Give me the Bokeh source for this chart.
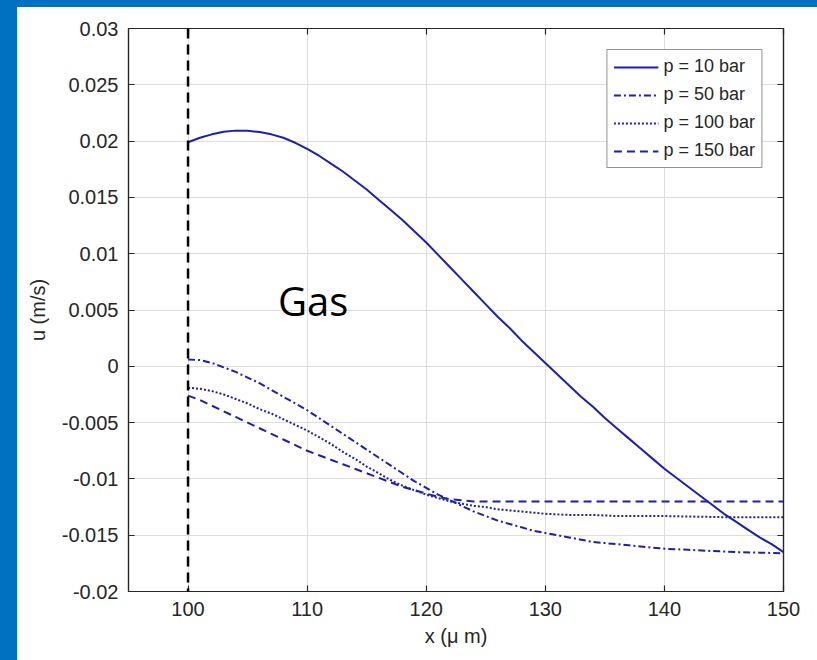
from bokeh.plotting import figure
from bokeh.models import (Range1d, FixedTicker, LinearAxis, Span, Label, Spacer,
                          CustomLabelingPolicy)
from bokeh.layouts import column, row
from bokeh.embed import file_html
from bokeh.resources import INLINE

# ---------------- data ----------------
x_p10 = [100, 101, 102, 103, 104, 105, 106, 107, 108, 109, 110, 111, 112, 113, 114,
         115, 116, 117, 118, 119, 120, 121, 122, 123, 124, 125, 126, 127, 128, 129,
         130, 131, 132, 133, 134, 135, 136, 137, 138, 139, 140, 141, 142, 143, 144,
         145, 146, 147, 148, 149, 150]
u_p10 = [0.0199, 0.0203, 0.0206, 0.02083, 0.02093, 0.02092, 0.0208, 0.0206, 0.0203,
         0.01985, 0.0193, 0.0187, 0.0180, 0.0173, 0.0165, 0.0157, 0.0148, 0.0139,
         0.0130, 0.0120, 0.0110, 0.0099, 0.0088, 0.0077, 0.0066, 0.0055, 0.0044,
         0.0034, 0.0023, 0.0013, 0.0003, -0.0007, -0.0017, -0.0027, -0.0036,
         -0.0046, -0.0055, -0.0064, -0.0073, -0.0082, -0.0091, -0.0099, -0.0107,
         -0.0115, -0.0123, -0.0131, -0.0138, -0.0145, -0.0152, -0.0158, -0.0165]

x_p50 = [100, 101, 102, 103, 104, 105, 106, 107, 108, 109, 110, 111, 112, 113, 114,
         115, 116, 117, 118, 119, 120, 121, 122, 123, 124, 125, 126, 127, 128, 129,
         130, 131, 132, 133, 134, 135, 136, 137, 138, 139, 140, 142, 144, 146, 148, 150]
u_p50 = [0.0006, 0.00055, 0.0003, -0.0001, -0.0005, -0.0010, -0.0015, -0.0021,
         -0.0027, -0.0033, -0.0039, -0.0046, -0.0053, -0.0060, -0.0067, -0.0074,
         -0.0081, -0.0088, -0.0095, -0.0102, -0.0108, -0.0114, -0.0119, -0.0124,
         -0.0129, -0.0133, -0.0137, -0.0140, -0.0143, -0.0146, -0.0148, -0.0150,
         -0.0152, -0.0154, -0.0156, -0.0157, -0.0158, -0.0159, -0.0160, -0.0161,
         -0.0162, -0.0163, -0.0164, -0.0165, -0.01655, -0.0166]

x_p100 = [100, 101, 102, 103, 104, 105, 106, 107, 108, 109, 110, 111, 112, 113, 114,
          115, 116, 117, 118, 119, 120, 121, 122, 123, 124, 125, 126, 127, 128, 129,
          130, 132, 134, 136, 140, 145, 150]
u_p100 = [-0.0019, -0.0020, -0.0022, -0.0025, -0.0029, -0.0033, -0.0038, -0.0042,
          -0.0047, -0.0052, -0.0057, -0.0063, -0.0069, -0.0076, -0.0082, -0.0089,
          -0.0095, -0.0101, -0.0106, -0.0110, -0.0114, -0.0117, -0.0120, -0.0122,
          -0.0124, -0.0125, -0.0127, -0.0128, -0.0129, -0.0130, -0.0131, -0.0132,
          -0.0132, -0.0133, -0.0133, -0.0134, -0.0134]

x_p150 = [100, 101, 102, 103, 104, 105, 106, 107, 108, 109, 110, 111, 112, 113, 114,
          115, 116, 117, 118, 119, 120, 121, 122, 123, 124, 130, 140, 150]
u_p150 = [-0.0026, -0.0030, -0.0035, -0.0040, -0.0045, -0.0050, -0.0055, -0.0060,
          -0.0065, -0.0070, -0.0075, -0.0079, -0.0083, -0.0087, -0.0091, -0.0095,
          -0.0099, -0.0103, -0.0107, -0.0110, -0.0113, -0.0116, -0.0118, -0.0119,
          -0.0120, -0.0120, -0.0120, -0.0120]

series_labels = ["p = 10 bar", "p = 50 bar", "p = 100 bar", "p = 150 bar"]

x_ticks = [100, 110, 120, 130, 140, 150]
y_ticks = [-0.02, -0.015, -0.01, -0.005, 0, 0.005, 0.01, 0.015, 0.02, 0.025, 0.03]
y_tick_labels = ["-0.02", "-0.015", "-0.01", "-0.005", "0", "0.005", "0.01",
                 "0.015", "0.02", "0.025", "0.03"]
interface_x = 100
region_label = "Gas"
region_label_pos = (110.5, 0.0058)

# ---------------- styles ----------------
BG_BLUE = "#0070C0"
LINE_BLUE = "#1f1fae"
AX = "#262626"
GRID = "#dedede"
FONT = "Liberation Sans"

p = figure(width=800, height=653,
           x_range=Range1d(95, 150), y_range=Range1d(-0.02, 0.03),
           output_backend="svg", toolbar_location=None,
           min_border_left=111, min_border_right=33,
           min_border_top=21, min_border_bottom=69,
           background_fill_color="white", border_fill_color="white",
           outline_line_color=AX, outline_line_width=1.2)

p.xaxis.ticker = FixedTicker(ticks=x_ticks)
p.yaxis.ticker = FixedTicker(ticks=y_ticks)
p.yaxis.major_label_overrides = {t: l for t, l in zip(y_ticks, y_tick_labels)}
p.xaxis.axis_label = "x (μ m)"
p.yaxis.axis_label = "u (m/s)"

for ax in [p.xaxis[0], p.yaxis[0]]:
    ax.major_label_text_font = FONT
    ax.major_label_text_font_size = "20px"
    ax.major_label_text_color = AX
    ax.axis_label_text_font = FONT
    ax.axis_label_text_font_size = "20px"
    ax.axis_label_text_font_style = "normal"
    ax.axis_label_text_color = AX
    ax.axis_line_color = AX
    ax.axis_line_width = 1.2
    ax.major_tick_line_color = AX
    ax.major_tick_line_width = 1.2
    ax.major_tick_in = 6
    ax.major_tick_out = 0
    ax.minor_tick_line_color = None
    ax.major_label_standoff = 10

p.xaxis.axis_label_standoff = 6
p.yaxis.axis_label_standoff = 10


def tick_only_axis(ticks):
    return LinearAxis(ticker=FixedTicker(ticks=ticks),
                      major_label_policy=CustomLabelingPolicy(code="return []"),
                      major_label_text_font_size="10px",
                      major_label_standoff=0, major_tick_in=6, major_tick_out=0,
                      minor_tick_line_color=None, axis_line_color=AX,
                      axis_line_width=1.2, major_tick_line_color=AX,
                      major_tick_line_width=1.2)


p.add_layout(tick_only_axis(x_ticks), "above")
p.add_layout(tick_only_axis(y_ticks), "right")

p.xgrid.grid_line_color = GRID
p.ygrid.grid_line_color = GRID
p.xgrid.grid_line_width = 1
p.ygrid.grid_line_width = 1

p.add_layout(Span(location=interface_x, dimension="height", line_color="black",
                  line_width=2.5, line_dash="10 6"))

p.line(x_p10, u_p10, line_color=LINE_BLUE, line_width=2, legend_label=series_labels[0])
p.line(x_p50, u_p50, line_color=LINE_BLUE, line_width=2, line_dash="7 3 2 3",
       legend_label=series_labels[1])
p.line(x_p100, u_p100, line_color=LINE_BLUE, line_width=2, line_dash="2 2",
       legend_label=series_labels[2])
p.line(x_p150, u_p150, line_color=LINE_BLUE, line_width=2, line_dash="8 5",
       legend_label=series_labels[3])

p.add_layout(Label(x=region_label_pos[0], y=region_label_pos[1], text=region_label,
                   text_font="Open Sans", text_font_size="40px", text_align="center",
                   text_baseline="alphabetic", text_color="black"))

lg = p.legend[0]
lg.location = "top_right"
lg.margin = 21
lg.padding = 6
lg.spacing = 7
lg.label_height = 20
lg.glyph_height = 20
lg.glyph_width = 45
lg.label_standoff = 5
lg.label_text_font = FONT
lg.label_text_font_size = "18px"
lg.label_text_color = AX
lg.border_line_color = AX
lg.border_line_width = 1.2
lg.background_fill_color = "white"
lg.background_fill_alpha = 1.0

top_strip = Spacer(width=817, height=7, styles={"background-color": BG_BLUE})
left_strip = Spacer(width=17, height=653, styles={"background-color": BG_BLUE})
page = column(top_strip, row(left_strip, p))

open("out.html", "w").write(file_html(page, INLINE))
